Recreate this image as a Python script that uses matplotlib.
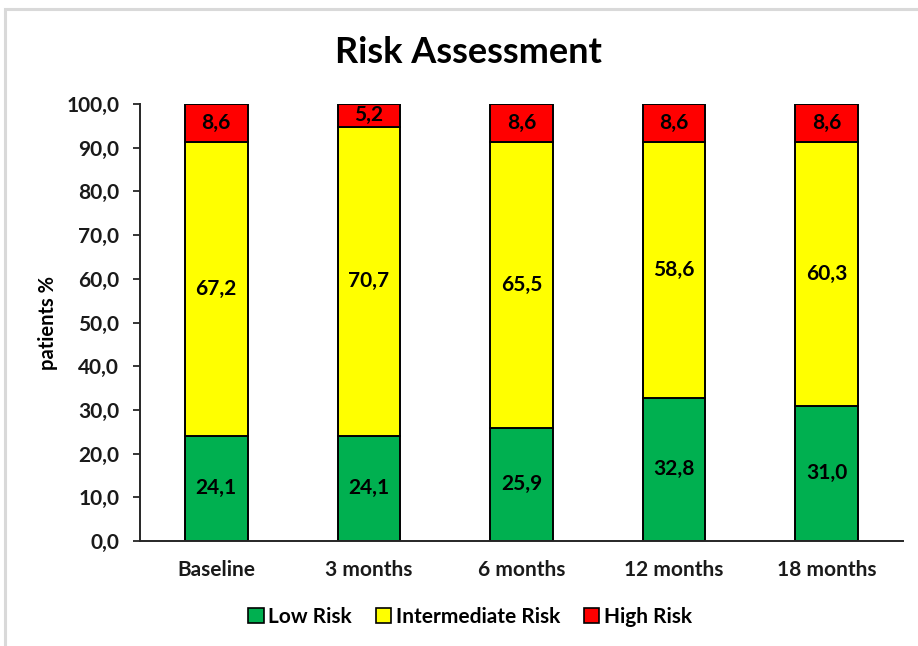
import matplotlib
matplotlib.use("Agg")
import matplotlib.pyplot as plt
import numpy as np
from matplotlib.patches import Rectangle, Patch

plt.rcParams['font.family'] = ['Lato', 'DejaVu Sans']

categories = ["Baseline", "3 months", "6 months", "12 months", "18 months"]
low_risk = [24.1, 24.1, 25.9, 32.8, 31.0]
intermediate_risk = [67.2, 70.7, 65.5, 58.6, 60.3]
high_risk = [8.6, 5.2, 8.6, 8.6, 8.6]
series_names = ["Low Risk", "Intermediate Risk", "High Risk"]
colors = ["#00B050", "#FFFF00", "#FF0000"]
yticks = [0, 10, 20, 30, 40, 50, 60, 70, 80, 90, 100]


def fmt(v):
    return f"{v:.1f}".replace(".", ",")


fig = plt.figure(figsize=(9.18, 6.46), dpi=100)

# light frame around the chart area
fig.patches.append(Rectangle((5 / 918, -0.1), 1.2, (1 - 9 / 646) + 0.1,
                             transform=fig.transFigure, fill=False,
                             edgecolor="#D9D9D9", linewidth=2.2, zorder=0))

ax = fig.add_axes([0.1525, 0.1625, 0.8312, 0.6765])

x = np.arange(len(categories))
width = 0.41
bottom = np.zeros(len(categories))
for name, vals, col in zip(series_names, [low_risk, intermediate_risk, high_risk], colors):
    vals = np.array(vals)
    ax.bar(x, vals, width, bottom=bottom, color=col, edgecolor="black",
           linewidth=1.4, label=name, zorder=2)
    for xi, b, v in zip(x, bottom, vals):
        ax.text(xi, b + v / 2, fmt(v), ha="center", va="center",
                fontsize=15, fontweight="bold", color="black", zorder=3)
    bottom += vals

ax.set_xlim(-0.5, len(categories) - 0.5)
ax.set_ylim(0, 100)
ax.set_yticks(yticks)
ax.set_yticklabels([fmt(t) for t in yticks], fontsize=15, fontweight="bold",
                   color="#1a1a1a")
ax.set_xticks(x)
ax.set_xticklabels(categories, fontsize=15, fontweight="bold", color="#1a1a1a")
ax.tick_params(axis="x", length=0, pad=14)
ax.tick_params(axis="y", length=5, width=1.3, color="#262626", pad=10)

for s in ["top", "right"]:
    ax.spines[s].set_visible(False)
for s in ["left", "bottom"]:
    ax.spines[s].set_color("#262626")
    ax.spines[s].set_linewidth(1.4)

ax.set_ylabel("patients %", fontsize=14.5, fontweight="bold")
ax.yaxis.set_label_coords(-0.108, 0.5)

fig.text(0.51, 0.918, "Risk Assessment", ha="center", va="center",
         fontsize=26, fontweight="bold")

handles = [Patch(facecolor=c, edgecolor="black", linewidth=1.2) for c in colors]
fig.legend(handles, series_names, loc="center", bbox_to_anchor=(0.512, 0.045),
           ncol=3, frameon=False, handlelength=0.75, handleheight=0.75,
           handletextpad=0.2, columnspacing=1.15,
           prop={"size": 15, "weight": "bold"})

fig.savefig("out.png", dpi=100)
